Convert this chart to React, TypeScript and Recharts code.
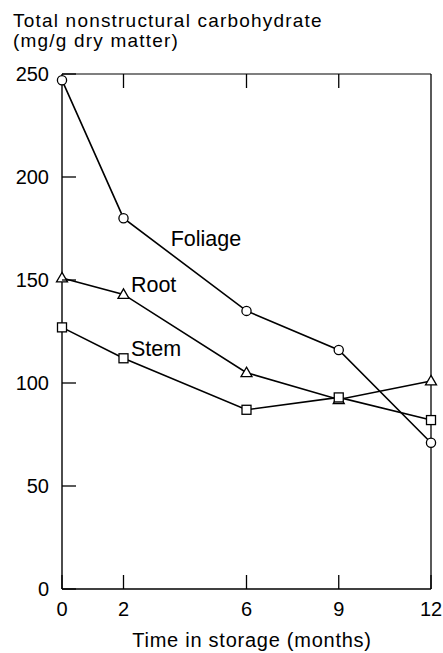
import { LineChart, Line, XAxis, YAxis, ReferenceLine, ReferenceDot, Label } from 'recharts';

const months = [0, 2, 6, 9, 12];
const foliage = [247, 180, 135, 116, 71];
const root = [151, 143, 105, 92, 101];
const stem = [127, 112, 87, 93, 82];

const xTicks = [0, 2, 6, 9, 12];
const topTicks = [2, 6, 9];
const yTicks = [0, 50, 100, 150, 200, 250];

const data = months.map((m, i) => ({
  month: m,
  foliage: foliage[i],
  root: root[i],
  stem: stem[i],
}));

const FONT = '"Liberation Sans", Arial, Helvetica, sans-serif';
const TICK_LEN = 14;
const TICK_GAP = 13;
// frame edges, these follow from the chart margins / axis sizes below
const PLOT_TOP = 74;
const PLOT_LEFT = 62;
const PLOT_BOTTOM = 589;

// bottom tick: label below, short tick pointing up into the plot,
// plus the matching tick hanging from the top edge
const renderXTick = (p: any) => {
  const v = p.payload.value;
  return (
    <g key={`xt-${v}`}>
      <line x1={p.x} y1={PLOT_BOTTOM} x2={p.x} y2={PLOT_BOTTOM - TICK_LEN} stroke="#000" strokeWidth={1.3} />
      {topTicks.includes(v) && (
        <line x1={p.x} y1={PLOT_TOP} x2={p.x} y2={PLOT_TOP + TICK_LEN} stroke="#000" strokeWidth={1.3} />
      )}
      <text x={p.x} y={p.y} dy="0.71em" textAnchor="middle" fill="#000" fontSize={20} fontFamily={FONT}>
        {v}
      </text>
    </g>
  );
};

const renderYTick = (p: any) => {
  const v = p.payload.value;
  return (
    <g key={`yt-${v}`}>
      <line x1={PLOT_LEFT} y1={p.y} x2={PLOT_LEFT + TICK_LEN} y2={p.y} stroke="#000" strokeWidth={1.3} />
      <text x={p.x} y={p.y} dy="0.36em" textAnchor="end" fill="#000" fontSize={20} fontFamily={FONT}>
        {v}
      </text>
    </g>
  );
};

const renderCircle = (p: any) => (
  <circle key={`c-${p.index}`} cx={p.cx} cy={p.cy} r={4.6} fill="#fff" stroke="#000" strokeWidth={1.3} />
);

const renderSquare = (p: any) => (
  <rect key={`s-${p.index}`} x={p.cx - 4.5} y={p.cy - 4.5} width={9} height={9} fill="#fff" stroke="#000" strokeWidth={1.3} />
);

const renderTriangle = (p: any) => (
  <path
    key={`t-${p.index}`}
    d={`M${p.cx},${p.cy - 5.5} L${p.cx + 5.5},${p.cy + 4} L${p.cx - 5.5},${p.cy + 4} Z`}
    fill="#fff"
    stroke="#000"
    strokeWidth={1.3}
  />
);

const seriesLabel = { fill: '#000', fontSize: 21.5, fontFamily: FONT };

export default function App() {
  return (
    <div
      style={{
        position: 'absolute',
        left: 0,
        top: 0,
        width: 443,
        height: 653,
        background: '#fff',
        fontFamily: FONT,
        color: '#000',
      }}
    >
      {/* y axis title, two lines above the frame */}
      <div
        style={{
          position: 'absolute',
          left: 13,
          top: 11,
          fontSize: 19,
          letterSpacing: 1.2,
          lineHeight: '19.5px',
          whiteSpace: 'nowrap',
        }}
      >
        Total nonstructural carbohydrate
        <br />
        (mg/g dry matter)
      </div>

      <LineChart
        width={443}
        height={653}
        data={data}
        margin={{ top: PLOT_TOP, right: 12, left: 0, bottom: 0 }}
      >
        <XAxis
          dataKey="month"
          type="number"
          domain={[0, 12]}
          ticks={xTicks}
          interval={0}
          height={653 - PLOT_BOTTOM}
          tickSize={0}
          tickMargin={TICK_GAP}
          axisLine={{ stroke: '#000', strokeWidth: 1.4 }}
          tickLine={false}
          tick={renderXTick}
        />
        <YAxis
          type="number"
          domain={[0, 250]}
          ticks={yTicks}
          interval={0}
          width={PLOT_LEFT}
          tickSize={0}
          tickMargin={TICK_GAP}
          axisLine={{ stroke: '#000', strokeWidth: 1.4 }}
          tickLine={false}
          tick={renderYTick}
        />

        {/* top and right sides of the frame */}
        <ReferenceLine y={250} stroke="#000" strokeWidth={1.2} />
        <ReferenceLine x={12} stroke="#000" strokeWidth={1.3} />

        <Line
          type="linear"
          dataKey="foliage"
          stroke="#000"
          strokeWidth={1.6}
          dot={renderCircle}
          activeDot={false}
          isAnimationActive={false}
        />
        <Line
          type="linear"
          dataKey="root"
          stroke="#000"
          strokeWidth={1.6}
          dot={renderTriangle}
          activeDot={false}
          isAnimationActive={false}
        />
        <Line
          type="linear"
          dataKey="stem"
          stroke="#000"
          strokeWidth={1.6}
          dot={renderSquare}
          activeDot={false}
          isAnimationActive={false}
        />

        <ReferenceDot x={4.68} y={170} r={0} fill="none" stroke="none">
          <Label value="Foliage" position="center" {...seriesLabel} />
        </ReferenceDot>
        <ReferenceDot x={2.98} y={148} r={0} fill="none" stroke="none">
          <Label value="Root" position="center" {...seriesLabel} />
        </ReferenceDot>
        <ReferenceDot x={3.06} y={117} r={0} fill="none" stroke="none">
          <Label value="Stem" position="center" {...seriesLabel} />
        </ReferenceDot>
      </LineChart>

      {/* x axis title */}
      <div
        style={{
          position: 'absolute',
          left: 102,
          top: 630,
          width: 300,
          textAlign: 'center',
          fontSize: 20,
          letterSpacing: 0.75,
          lineHeight: '20px',
          whiteSpace: 'nowrap',
        }}
      >
        Time in storage (months)
      </div>
    </div>
  );
}
